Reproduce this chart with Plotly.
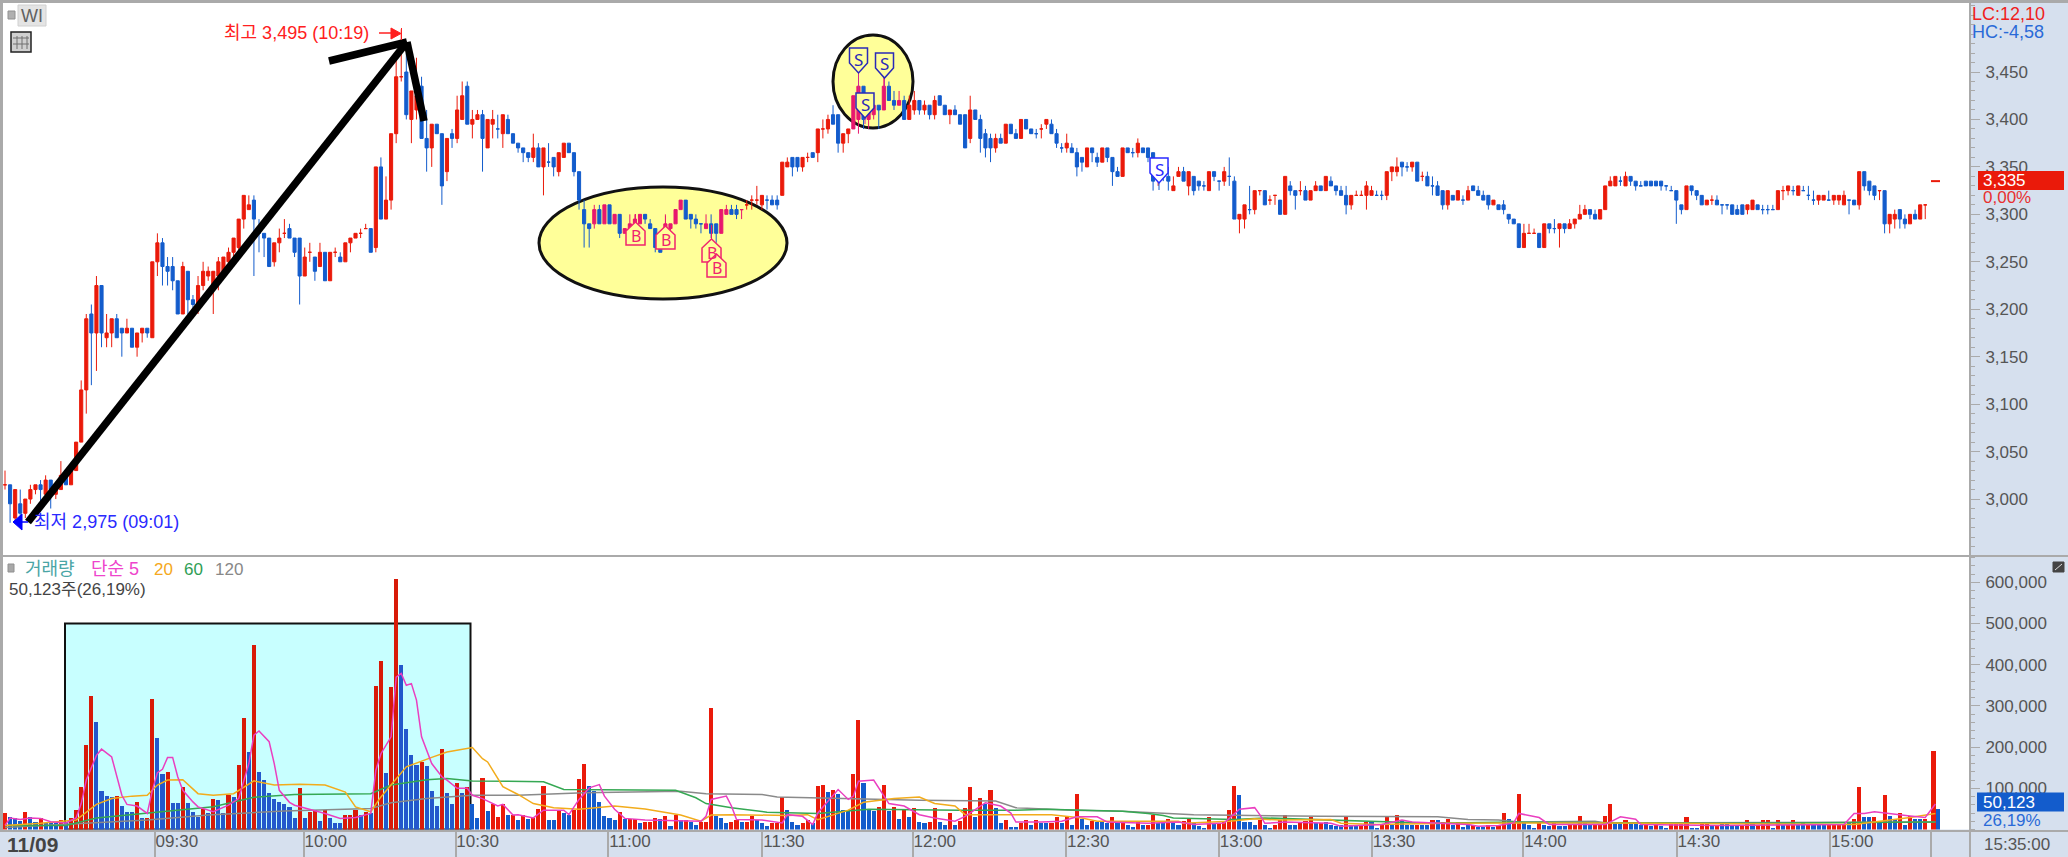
import plotly.graph_objects as go

W, H = 2068, 857
NARROW = "Liberation Sans, Noto Sans CJK KR, sans-serif"

# ---------- one-minute candles ----------
open_ = [
3015,3015,2980,2995,2985,3000,3010,3015,3005,3020,
3005,3010,3030,3015,3030,3060,3115,3195,3175,3225,
3170,3175,3190,3180,3175,3180,3160,3175,3180,3170,
3250,3270,3245,3245,3230,3195,3240,3210,3205,3225,
3235,3225,3235,3240,3250,3260,3265,3295,3305,3315,
3285,3280,3275,3250,3270,3280,3285,3275,3275,3235,
3260,3255,3245,3260,3230,3260,3255,3250,3270,3275,
3280,3285,3285,3265,3350,3295,3315,3385,3445,3450,
3400,3410,3435,3380,3370,3395,3385,3345,3385,3380,
3400,3435,3395,3400,3405,3370,3395,3390,3385,3400,
3385,3375,3370,3365,3360,3370,3350,3355,3360,3345,
3360,3375,3365,3345,3305,3290,3290,3305,3290,3310,
3290,3300,3280,3285,3290,3290,3300,3290,3285,3280,
3280,3285,3290,3305,3315,3300,3295,3290,3285,3290,
3290,3280,3300,3305,3305,3305,3310,3315,3315,3310,
3315,3315,3315,3320,3350,3360,3360,3350,3360,3365,
3365,3390,3390,3405,3405,3375,3385,3390,3400,3435,
3400,3405,3415,3410,3435,3420,3415,3420,3400,3410,
3420,3410,3415,3405,3425,3415,3405,3410,3405,3405,
3380,3410,3400,3385,3380,3370,3380,3375,3395,3385,
3380,3400,3390,3385,3390,3395,3395,3385,3370,3370,
3370,3365,3360,3350,3370,3360,3355,3370,3360,3345,
3340,3370,3365,3365,3370,3370,3365,3340,3345,3340,
3325,3340,3345,3330,3340,3335,3330,3325,3345,3335,
3335,3340,3335,3295,3295,3305,3305,3325,3325,3315,
3320,3315,3300,3330,3325,3325,3325,3315,3325,3330,
3325,3335,3330,3325,3320,3310,3320,3320,3320,3320,
3320,3320,3320,3345,3345,3355,3350,3350,3355,3340,
3340,3330,3330,3325,3310,3320,3315,3315,3315,3330,
3325,3320,3320,3310,3310,3310,3300,3295,3290,3265,
3280,3280,3280,3265,3290,3285,3285,3290,3285,3290,
3295,3300,3305,3300,3295,3305,3330,3330,3335,3330,
3340,3335,3330,3335,3335,3335,3335,3330,3325,3325,
3310,3305,3330,3325,3320,3310,3315,3315,3310,3310,
3310,3305,3310,3305,3305,3310,3305,3305,3305,3305,
3325,3325,3325,3320,3325,3320,3315,3315,3315,3315,
3315,3315,3310,3315,3315,3310,3345,3335,3330,3325,
3325,3290,3295,3305,3295,3290,3300,3295,3310]
high = [
3030,3015,3010,3010,3000,3015,3015,3020,3025,3020,
3010,3040,3030,3030,3060,3125,3195,3205,3235,3225,
3195,3190,3195,3180,3190,3180,3175,3180,3180,3250,
3280,3275,3255,3255,3230,3250,3240,3215,3235,3250,
3245,3240,3255,3255,3265,3275,3295,3320,3320,3320,
3295,3280,3275,3270,3285,3295,3290,3275,3275,3265,
3270,3255,3270,3260,3260,3265,3260,3270,3275,3280,
3285,3290,3285,3350,3360,3340,3385,3465,3495,3470,
3430,3465,3445,3410,3395,3395,3385,3380,3390,3425,
3440,3440,3410,3410,3410,3400,3410,3405,3405,3405,
3385,3375,3370,3365,3385,3375,3370,3375,3360,3365,
3375,3375,3365,3345,3315,3290,3310,3310,3310,3310,
3300,3300,3285,3300,3300,3300,3300,3295,3285,3280,
3300,3290,3305,3315,3315,3300,3300,3290,3300,3300,
3290,3305,3310,3310,3310,3305,3315,3320,3330,3320,
3320,3320,3320,3355,3360,3360,3360,3360,3365,3365,
3390,3400,3405,3415,3405,3385,3390,3425,3435,3435,
3415,3415,3415,3450,3440,3430,3430,3425,3425,3430,
3420,3420,3415,3425,3425,3415,3410,3415,3405,3405,
3425,3410,3405,3390,3385,3385,3385,3395,3395,3390,
3400,3400,3390,3390,3395,3400,3400,3390,3375,3385,
3375,3370,3360,3370,3370,3365,3370,3370,3360,3350,
3370,3370,3370,3380,3370,3370,3365,3350,3350,3350,
3340,3350,3350,3345,3340,3335,3335,3345,3345,3335,
3350,3360,3340,3300,3310,3330,3325,3325,3325,3320,
3320,3315,3340,3335,3325,3335,3330,3325,3335,3330,
3340,3340,3330,3330,3330,3320,3325,3325,3335,3330,
3325,3325,3345,3350,3360,3355,3355,3355,3355,3345,
3345,3340,3335,3325,3325,3320,3325,3320,3330,3330,
3330,3325,3320,3315,3310,3315,3300,3295,3290,3290,
3290,3285,3280,3290,3290,3295,3290,3290,3295,3295,
3310,3310,3305,3305,3305,3330,3340,3340,3340,3345,
3340,3335,3335,3335,3335,3335,3335,3330,3330,3325,
3310,3330,3330,3325,3320,3315,3320,3320,3310,3310,
3310,3310,3310,3310,3315,3310,3310,3310,3310,3325,
3330,3330,3330,3330,3330,3330,3325,3320,3320,3325,
3320,3320,3325,3315,3315,3345,3345,3335,3330,3325,
3325,3300,3305,3305,3300,3300,3305,3310,3310]
low = [
3010,2975,2975,2975,2980,2995,3005,2995,3000,2990,
3000,3010,3015,3015,3030,3060,3090,3120,3135,3160,
3160,3160,3170,3150,3175,3160,3150,3165,3170,3170,
3235,3225,3225,3220,3195,3195,3195,3195,3195,3220,
3230,3195,3220,3235,3240,3255,3260,3285,3305,3235,
3260,3255,3245,3245,3260,3275,3275,3255,3205,3235,
3250,3230,3245,3230,3230,3255,3250,3250,3260,3275,
3275,3285,3260,3260,3295,3295,3305,3375,3440,3400,
3375,3400,3380,3345,3350,3385,3310,3335,3370,3375,
3400,3395,3380,3400,3345,3370,3380,3380,3370,3385,
3375,3365,3355,3355,3355,3350,3320,3350,3340,3340,
3360,3365,3340,3305,3265,3265,3285,3290,3290,3290,
3290,3275,3280,3285,3285,3290,3290,3285,3260,3260,
3275,3280,3290,3305,3295,3285,3285,3280,3285,3275,
3270,3280,3300,3300,3295,3295,3305,3305,3310,3305,
3305,3310,3305,3320,3350,3340,3345,3345,3355,3360,
3355,3380,3385,3395,3365,3365,3375,3390,3385,3390,
3390,3400,3390,3410,3420,3410,3415,3400,3400,3405,
3405,3405,3400,3400,3415,3405,3395,3405,3395,3370,
3375,3400,3365,3360,3355,3365,3375,3375,3385,3380,
3380,3390,3385,3380,3380,3390,3385,3370,3365,3365,
3365,3340,3345,3350,3355,3350,3355,3355,3330,3340,
3340,3365,3360,3360,3365,3355,3325,3330,3335,3325,
3325,3340,3335,3320,3320,3325,3325,3325,3335,3325,
3330,3330,3295,3280,3285,3300,3300,3320,3310,3310,
3310,3300,3300,3320,3305,3320,3315,3315,3325,3325,
3325,3330,3320,3320,3300,3305,3320,3320,3305,3320,
3320,3315,3315,3335,3340,3340,3345,3345,3335,3335,
3330,3320,3320,3305,3305,3315,3315,3310,3315,3325,
3320,3315,3305,3310,3305,3300,3290,3290,3265,3265,
3280,3280,3265,3265,3280,3280,3265,3280,3285,3285,
3295,3300,3295,3295,3295,3305,3330,3330,3330,3330,
3330,3325,3330,3330,3330,3330,3325,3325,3325,3290,
3300,3305,3320,3315,3310,3310,3310,3310,3300,3305,
3300,3300,3300,3300,3305,3305,3300,3300,3305,3305,
3315,3320,3320,3320,3325,3315,3310,3310,3315,3315,
3310,3310,3310,3300,3310,3305,3325,3320,3315,3315,
3280,3280,3285,3285,3285,3290,3295,3295,3295]
close = [
3015,2995,3010,2985,3000,3010,3015,3010,3020,3010,
3010,3025,3015,3030,3060,3115,3190,3175,3225,3175,
3175,3190,3170,3175,3180,3160,3175,3180,3175,3250,
3270,3245,3240,3230,3195,3245,3210,3205,3225,3240,
3240,3240,3250,3255,3260,3275,3295,3320,3310,3295,
3280,3275,3245,3270,3275,3280,3275,3260,3235,3255,
3260,3240,3260,3230,3260,3260,3250,3270,3275,3280,
3280,3285,3260,3350,3295,3315,3385,3445,3445,3405,
3430,3425,3380,3370,3395,3385,3330,3380,3380,3410,
3425,3395,3400,3405,3380,3400,3400,3390,3405,3385,
3375,3370,3365,3360,3370,3350,3370,3355,3350,3365,
3375,3365,3345,3315,3290,3285,3305,3290,3310,3290,
3300,3280,3285,3290,3295,3300,3295,3285,3265,3260,
3290,3290,3305,3315,3295,3295,3290,3290,3290,3280,
3280,3305,3305,3300,3300,3305,3310,3315,3315,3320,
3315,3310,3310,3355,3355,3350,3350,3360,3360,3360,
3390,3390,3400,3395,3375,3385,3390,3425,3435,3400,
3410,3415,3410,3435,3420,3415,3420,3400,3415,3420,
3410,3415,3405,3420,3415,3405,3410,3405,3395,3370,
3410,3400,3380,3370,3370,3380,3375,3395,3385,3380,
3400,3390,3385,3385,3390,3400,3385,3375,3370,3375,
3365,3350,3355,3370,3365,3355,3370,3360,3345,3340,
3370,3365,3365,3375,3365,3360,3335,3345,3340,3335,
3330,3345,3335,3345,3325,3330,3330,3345,3340,3335,
3345,3340,3295,3300,3310,3305,3325,3325,3310,3315,
3320,3300,3340,3325,3320,3325,3315,3325,3330,3325,
3340,3330,3325,3320,3310,3320,3320,3320,3330,3325,
3320,3320,3345,3350,3350,3350,3350,3355,3335,3340,
3330,3330,3320,3310,3325,3315,3325,3315,3325,3325,
3320,3315,3310,3315,3305,3305,3295,3290,3265,3280,
3280,3280,3265,3290,3285,3285,3290,3285,3290,3295,
3300,3305,3300,3295,3305,3330,3335,3340,3335,3340,
3335,3330,3330,3330,3330,3330,3330,3330,3325,3315,
3305,3330,3325,3320,3310,3315,3315,3310,3310,3310,
3300,3300,3300,3310,3315,3305,3305,3305,3305,3325,
3325,3330,3325,3330,3325,3320,3315,3320,3320,3315,
3320,3320,3320,3315,3310,3345,3330,3325,3320,3325,
3290,3300,3300,3295,3290,3300,3295,3310,3310]
candle_side = (
"rbrbrrrbrb" "rrbrrrrbrb" "rrbbrbrrbr" "rbbbbrbbrr" "rrrrrrrrrb"
"bbbrrrbbbr" "rbrbrrbrrr" "rrbrbrrrrb" "rrbbrbbrbr" "rbrrbrrbrb"
"bbbbrbrbbr" "rbbbbbpbpb" "pbppppbbbb" "ppppbbbbpb" "bppbbprrrr"
"bbbrrbbrrb" "rrrbbrrppb" "ppbpbbpbrr" "brbrbbrbbb" "rbbbbrbrbb"
"rbbbrrbbbr" "bbbrbbrbbb" "rbbrbbbrbb" "rrbrbbbrbb" "rbbrrbrrbr"
"rbrbbrbrrb" "rbbbbrrrrr" "bbrrrbbrbr" "bbbbrbrbrb" "bbbrbbbbbr"
"rrbrbbrbrr" "rrbbrrrrbr"
"bbbbbbbbbb" "brbbbrrbbb" "bbbrrbbbbr" "rrbrbbbrrb" "rrrbbrbbbr" "brrbbrbrr")
auction_price = 3335

# ---------- volume (thousand shares) ----------
volume_k = [
39,31,27,21,43,31,19,27,15,15,
15,24,19,27,47,102,205,324,261,94,
82,78,82,57,43,43,67,29,27,316,
221,134,140,65,65,102,65,43,31,49,
39,75,71,39,83,79,156,271,188,447,
140,121,89,75,67,63,55,28,101,28,
43,47,21,47,29,16,16,35,35,47,
35,43,39,349,409,138,345,607,399,243,
180,156,164,154,94,57,195,89,61,112,
89,104,61,28,125,45,63,31,63,35,
36,23,34,26,28,50,105,23,23,47,
40,34,47,123,160,105,93,66,32,28,
23,42,26,26,26,15,19,19,28,26,
32,8,36,23,23,19,11,19,19,295,
32,28,15,19,24,19,19,32,23,15,
8,15,15,78,47,19,11,15,24,16,
105,109,91,95,87,47,47,135,267,113,
49,44,55,109,44,55,26,47,30,51,
19,15,19,51,19,11,40,11,20,51,
103,30,77,63,95,51,15,23,6,6,
15,23,12,23,15,15,15,31,15,31,
12,85,26,11,20,18,18,15,31,15,
18,10,6,20,12,12,36,15,15,26,
18,10,20,26,15,8,4,30,15,15,
18,47,105,83,18,18,12,23,10,4,
10,22,34,12,12,15,20,30,15,15,
18,12,8,10,31,10,10,10,18,20,
4,10,31,12,36,23,12,10,12,12,
10,22,22,18,26,12,18,6,10,10,
6,6,10,6,12,40,26,18,87,
18,12,4,18,12,8,16,8,8,10,
10,33,15,12,12,12,33,63,18,15,
23,16,15,12,15,8,15,8,4,15,
15,15,30,4,4,15,15,12,12,15,
15,8,8,12,23,15,10,23,23,4,
23,12,10,23,12,15,12,10,10,10,
10,10,12,12,18,25,104,30,30,30,
18,84,33,26,39,12,33,26,26,26,
191,50]
volume_side = (
"rbbbrbbrbb" "brbrrrrrbb" "bbrbbbrbrr" "bbrbbrbbbr" "brbbrbrrbr"
"bbbbbbbbrb" "rrbrbbbrrr" "brbrrbrrbb" "bbrbbbrbbr" "brbbrbrrrb"
"rbrbrrrbbr" "bbrrrbbbbb" "brbrrbrrrb" "rbrbrbbrrr" "bbbrrbrrbb"
"brrrbbbrrb" "rrbrbbbrrb" "bbrrbrbrbr" "bbrrbbrbrr" "rbrbrbbrbb"
"rrbrbbrrbr" "brbbrbbbrb" "rbbrbrrbbr" "bbrrbbbrbr" "rrrbbbbrbb"
"rrrbbrrrbr" "bbbbrbbrrb" "brrbrbbbrb" "brbrrbrbbr" "bbrbrrbrr"
"bbbrbbrbbr" "rrbbrrrrbb" "rbbbrbrbbr" "rrrbbrrbrb" "bbbrrbrrrb"
"rbrrbbrbbb" "rrrrbrrbbr" "brbbrbrbbr" "rb")

# ---------- volume moving averages (bar index, thousand shares) ----------
ma5_i = [0,1,3,5,7,9,12,14,15,16,18,19,21,22,23,24,26,28,29,30,31,32,33,34,35,37,38,41,44,46,48,49,50,52,53,54,56,57,60,63,66,69,72,73,74,76,77,78,79,80,81,82,84,86,87,89,91,92,94,97,98,100,101,104,106,110,111,113,115,117,118,120,122,126,137,138,139,142,143,144,149,153,154,157,159,160,164,166,167,168,171,173,174,177,180,183,187,189,193,196,198,199,204,208,211,215,217,225,231,234,240,243,246,247,248,252,258,261,263,271,275,277,288,290,294,297,298,302,304,315,318,321,322,337,362,364,366,368,375,378,380]
ma5_k = [10,28,24,28,27,19,16,28,63,120,180,195,176,128,83,61,57,39,95,138,146,175,175,128,95,67,55,43,59,75,160,229,239,213,160,95,66,59,49,39,27,29,39,144,184,225,370,379,350,354,314,225,160,128,120,100,100,83,75,57,61,35,36,28,47,47,36,73,101,109,81,49,27,23,20,32,73,81,57,24,23,16,36,32,12,40,97,73,81,117,120,81,63,57,36,28,20,32,65,57,40,18,18,20,31,31,18,15,18,12,16,49,53,36,15,18,15,15,8,12,23,18,12,8,10,16,39,29,12,12,31,25,12,10,12,39,39,43,33,29,62]
ma20_i = [0,7,14,16,18,21,25,28,30,32,35,38,41,45,49,53,58,63,67,69,72,74,77,79,84,87,92,94,95,98,101,104,108,113,120,126,133,137,139,143,154,158,160,166,169,175,180,183,187,189,199,202,206,212,215,231,232,241,246,251,261,263,270,284,297,315,364,369,375,380]
ma20_k = [10,15,23,43,61,75,81,83,108,120,121,87,83,87,118,108,110,108,91,55,43,79,124,152,175,188,199,172,164,104,85,63,53,49,57,50,35,20,35,36,34,36,24,47,66,75,79,63,57,36,36,36,36,28,20,20,15,20,26,23,24,15,12,15,15,16,12,20,29,39]
ma60_i = [0,12,18,28,41,49,57,72,76,83,87,92,101,106,110,132,136,138,143,150,160,170,188,199,205,210,220,225,228,230,242,248,271,281,297,337,380]
ma60_k = [10,10,28,39,55,78,85,87,108,121,124,118,116,116,97,95,77,63,53,42,39,49,47,47,49,47,44,39,34,28,24,28,20,15,18,15,18]
ma120_i = [0,15,28,40,55,72,76,83,92,101,114,133,138,149,152,180,195,199,210,220,234,259,282,288,294,298,313,315,380]
ma120_k = [5,15,23,35,45,51,65,75,83,83,89,93,87,85,79,71,69,53,47,44,36,32,31,24,23,18,20,16,18]

# ---------- axis labels ----------
time_ticks = [29.5, 58.8, 88.7, 118.7, 149.0, 178.7, 208.9, 239.0, 269.1, 298.9, 329.1, 359.3, 379.1]
time_labels = ["09:30","10:00","10:30","11:00","11:30","12:00","12:30","13:00","13:30","14:00","14:30","15:00",""]
price_ticks = [3000, 3050, 3100, 3150, 3200, 3250, 3300, 3350, 3400, 3450]
volume_ticks = [100000, 200000, 300000, 400000, 500000, 600000]

assert len(open_) == len(high) == len(low) == len(close) == len(candle_side), (len(open_), len(high), len(low), len(close), len(candle_side))
assert len(volume_k) == len(volume_side), (len(volume_k), len(volume_side))

RED, BLUE, PINK = "#ea1a0a", "#135ccc", "#e8186e"
AXIS = "#aaaaaa"; TXT = "#555555"; PANEL = "#d6e0ee"
RIGHT = 1970

bar_px = 5.08
def to_i(px): return (px - 5) / bar_px
def to_p(py): return 3450 - (py - 72) / 0.949
def fx(px): return px / W
def fy(py): return 1 - py / H

fig = go.Figure()
for side, color in (("r", RED), ("b", BLUE), ("p", PINK)):
    idx = [i for i, s in enumerate(candle_side) if s == side]
    fig.add_trace(go.Candlestick(
        x=idx, open=[open_[i] for i in idx], high=[high[i] for i in idx],
        low=[low[i] for i in idx], close=[close[i] for i in idx],
        increasing=dict(line=dict(color=color, width=1), fillcolor=color),
        decreasing=dict(line=dict(color=color, width=1), fillcolor=color),
        whiskerwidth=0, hoverinfo="skip", showlegend=False, xaxis="x", yaxis="y"))
fig.add_trace(go.Scatter(x=[to_i(1931), to_i(1940)], y=[auction_price, auction_price], mode="lines",
                         line=dict(color=RED, width=2), hoverinfo="skip", showlegend=False))

def vol_color(i, s):
    inside = 12 <= i <= 91
    if s == "r":
        return "#d81a08" if inside else RED
    return "#2358cc" if inside else BLUE

volume_x = list(range(len(volume_k)))
volume_x[-2:] = [to_i(1933.5), to_i(1938)]
fig.add_trace(go.Bar(x=volume_x, y=[v * 1000 for v in volume_k],
                     marker=dict(color=[vol_color(i, s) for i, s in enumerate(volume_side)], line=dict(width=0)),
                     width=0.8, hoverinfo="skip", showlegend=False, xaxis="x2", yaxis="y2"))
for xs, ys, col, lw in ((ma120_i, ma120_k, "#8a8a8a", 1.5), (ma60_i, ma60_k, "#35a853", 1.5),
                        (ma20_i, ma20_k, "#f2ac1c", 1.5), (ma5_i, ma5_k, "#ea3fc0", 1.5)):
    fig.add_trace(go.Scatter(x=xs, y=[v * 1000 for v in ys], mode="lines", line=dict(color=col, width=lw),
                             hoverinfo="skip", showlegend=False, xaxis="x2", yaxis="y2"))

shapes = []
def line_px(x0, y0, x1, y1, color=AXIS, w=2, layer="above"):
    shapes.append(dict(type="line", xref="paper", yref="paper", x0=fx(x0), y0=fy(y0), x1=fx(x1), y1=fy(y1),
                       line=dict(color=color, width=w), layer=layer))
def rect_px(x0, y0, x1, y1, fill, color=None, w=0):
    shapes.append(dict(type="rect", xref="paper", yref="paper", x0=fx(x0), y0=fy(y0), x1=fx(x1), y1=fy(y1),
                       fillcolor=fill, line=dict(color=color or fill, width=w), layer="above"))
def path_px(pts, fill, color, w=2):
    d = "M " + " L ".join(f"{fx(a):.5f},{fy(b):.5f}" for a, b in pts) + " Z"
    shapes.append(dict(type="path", xref="paper", yref="paper", path=d, fillcolor=fill,
                       line=dict(color=color, width=w), layer="above"))

shapes.append(dict(type="rect", xref="x2", yref="y2", x0=to_i(65), x1=to_i(470.5), y0=0, y1=500000,
                   fillcolor="#c8ffff", line=dict(color="#111111", width=2), layer="below"))
for x0, x1, y0, y1 in ((539, 787, 187, 299), (833, 913, 35, 128)):
    shapes.append(dict(type="circle", xref="x", yref="y", x0=to_i(x0), x1=to_i(x1), y0=to_p(y1), y1=to_p(y0),
                       fillcolor="#ffff99", line=dict(color="#111111", width=3), layer="below"))
for a, b in (((28, 522), (407, 42)), ((329, 61), (407, 42)), ((407, 42), (424, 121))):
    shapes.append(dict(type="line", xref="x", yref="y", x0=to_i(a[0]), y0=to_p(a[1]), x1=to_i(b[0]), y1=to_p(b[1]),
                       line=dict(color="#000000", width=7.5), layer="above"))

annos = []
def text_px(x, y, s, size=18, color=TXT, anchor="left", family=NARROW):
    annos.append(dict(xref="paper", yref="paper", x=fx(x), y=fy(y), text=s, showarrow=False, xanchor=anchor,
                      yanchor="middle", font=dict(size=size, color=color, family=family),
                      borderpad=0, borderwidth=0))

for cx, top, fill, stem in ((858.5, 48, "#ffff99", 97), (884.5, 53, "#ffff99", 88), (865, 93, "#ffff99", 124), (1159, 158, "#ffffff", 190)):
    line_px(cx, top + 24, cx, stem, "#d02a90" if stem < 150 else BLUE, 1)
    path_px([(cx - 9, top), (cx + 9, top), (cx + 9, top + 15), (cx, top + 25), (cx - 9, top + 15)], fill,
            "#2a2ab8" if stem < 150 else "#2a2aff", 1.5)
    text_px(cx, top + 11, "S", 17, "#2a2ab8" if stem < 150 else "#2a2aff", "center", "Noto Sans")
for cx, top, stem in ((635.5, 222, 214), (665.5, 226, 216), (711.5, 239, 225), (716.5, 254, 254)):
    if stem < top:
        line_px(cx, stem, cx, top, PINK, 1)
    path_px([(cx, top), (cx + 9.5, top + 9), (cx + 9.5, top + 23), (cx - 9.5, top + 23), (cx - 9.5, top + 9)], "#ffff99", "#f0246e", 1.5)
    text_px(cx, top + 14, "B", 16, "#f0246e", "center", "Noto Sans")

line_px(0, 1.5, W, 1.5, AXIS, 3)
line_px(1.5, 0, 1.5, 830, AXIS, 3)
line_px(0, 556, W, 556, AXIS, 2)
line_px(0, 831, W, 831, AXIS, 2)
line_px(RIGHT, 0, RIGHT, H, AXIS, 2)

rect_px(8, 11, 15, 19, "#b0b0b0", "#909090", 1)
rect_px(18, 5, 46, 26, "#e4e4e4", "#d0d0d0", 1)
text_px(32, 16, "WI", 18, "#606060", "center")
rect_px(11, 32, 31, 52, "#d0d0d0", "#222222", 1.5)
for gx in (17, 22, 27):
    line_px(gx, 36, gx, 49, "#707070", 1)
for gy in (38, 44):
    line_px(13, gy, 29, gy, "#707070", 1)
rect_px(8, 564, 14, 572, "#a8a8a8", "#909090", 1)
rect_px(2053, 562, 2064, 572, "#444444", "#444444", 1)
line_px(2055, 570, 2062, 564, "#dddddd", 1)

text_px(224, 33, "최고 3,495 (10:19)", 18, "#ff2020")
line_px(379, 33, 394, 33, "#ff2020", 1.5)
path_px([(391, 28), (401, 33.5), (391, 39)], "#ff2020", "#ff2020", 1)
line_px(401.5, 28, 401.5, 40, "#ff2020", 1)
text_px(34, 522, "최저 2,975 (09:01)", 18, "#2a2aff")
line_px(18, 522, 28, 522, "#0000ff", 1.5)
path_px([(22, 514), (13, 522), (22, 530)], "#0000ff", "#0000ff", 1)

text_px(1972, 14, "LC:12,10", 18, "#f02020")
text_px(1972, 32, "HC:-4,58", 18, "#2a6ad8")
rect_px(1978, 171, 2064, 190, "#ea1a0a")
text_px(1983, 181, "3,335", 17, "#ffffff")
text_px(1983, 198, "0,00%", 17, "#e83030")
rect_px(1977, 792.5, 2064, 811.5, BLUE)
text_px(1983, 802, "50,123", 17, "#ffffff")
text_px(1983, 820, "26,19%", 17, "#2a6ad8")

text_px(25, 569, "거래량", 18, "#4aa5a5")
text_px(91, 569, "단순 5", 18, "#ee44cc")
text_px(154, 569, "20", 17, "#f5a820")
text_px(184, 569, "60", 17, "#2f9e55")
text_px(215, 569, "120", 17, "#888888")
text_px(9, 589, "50,123주(26,19%)", 17, "#444444")

text_px(7, 844, "<b>11/09</b>", 21, "#444444")
text_px(1984, 844, "15:35:00", 17, TXT)

xdom = [fx(3), fx(RIGHT)]
xr = [to_i(3), to_i(RIGHT)]
tickfont = dict(size=17, color=TXT, family=NARROW)
fig.update_layout(
    width=W, height=H, margin=dict(l=0, r=0, t=0, b=0), autosize=False,
    paper_bgcolor=PANEL, plot_bgcolor="#ffffff", showlegend=False, boxgap=0.12, bargap=0,
    shapes=shapes, annotations=annos,
    xaxis=dict(domain=xdom, range=xr, rangeslider=dict(visible=False), showgrid=False, zeroline=False,
               showticklabels=False, ticks="", anchor="y", automargin=False),
    yaxis=dict(domain=[fy(555), fy(3)], range=[to_p(555), to_p(3)], side="right", anchor="x", showgrid=False,
               zeroline=False, tickmode="array", tickvals=price_ticks, tickformat=",d", ticks="outside", ticklen=9,
               tickwidth=1, tickcolor=AXIS, tickfont=tickfont, ticklabelstandoff=2, showline=False, automargin=False,
               minor=dict(ticks="outside", ticklen=4, tickwidth=1, tickcolor=AXIS, dtick=10, tick0=3000, showgrid=False)),
    xaxis2=dict(domain=xdom, range=xr, showgrid=False, zeroline=False, anchor="y2", tickmode="array",
                tickvals=time_ticks, ticktext=time_labels, ticks="outside", ticklen=27, tickwidth=2, tickcolor=AXIS,
                tickfont=tickfont, ticklabelshift=22, ticklabelstandoff=-31, automargin=False),
    yaxis2=dict(domain=[fy(829.5), fy(557)], range=[0, (829.5 - 557) / 41.2 * 100000], side="right", anchor="x2",
                showgrid=False, zeroline=False, tickmode="array", tickvals=volume_ticks, tickformat=",d",
                ticks="outside", ticklen=9, tickwidth=1, tickcolor=AXIS, tickfont=tickfont, ticklabelstandoff=2, automargin=False,
                minor=dict(ticks="outside", ticklen=4, tickwidth=1, tickcolor=AXIS, dtick=20000, tick0=0, showgrid=False)),
)
fig.write_html("out.html", config={"displayModeBar": False}, post_script="document.body.style.margin='0';document.body.style.overflow='hidden';")
